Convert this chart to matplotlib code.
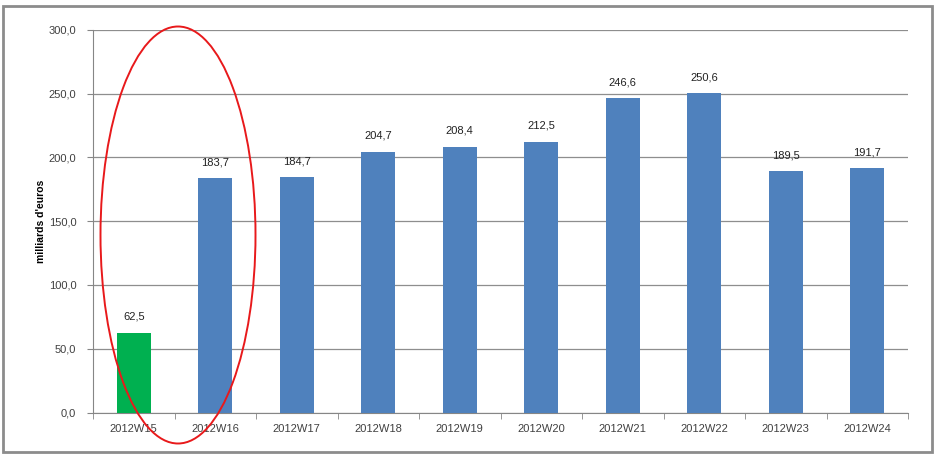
import matplotlib.pyplot as plt
from matplotlib.patches import Ellipse, Rectangle
from matplotlib.ticker import FuncFormatter, FixedLocator

weeks = ["2012W15", "2012W16", "2012W17", "2012W18", "2012W19",
         "2012W20", "2012W21", "2012W22", "2012W23", "2012W24"]
values = [62.5, 183.7, 184.7, 204.7, 208.4, 212.5, 246.6, 250.6, 189.5, 191.7]
colors = ["#00B050"] + ["#4F81BD"] * 9

plt.rcParams['font.family'] = ['Liberation Sans', 'DejaVu Sans']
text_col = "#404040"

fig = plt.figure(figsize=(9.38, 4.61), dpi=100)
ax = fig.add_axes([93 / 938, 1 - 412.5 / 461, 815 / 938, 382.5 / 461])

x = range(len(weeks))
bars = ax.bar(x, values, width=0.42, color=colors, zorder=3)
for xi, v in zip(x, values):
    ax.text(xi, v + 8.5, f"{v:.1f}".replace(".", ","), ha="center", va="bottom",
            fontsize=8, color="#222222")

ax.set_xlim(-0.5, len(weeks) - 0.5)
ax.set_ylim(0, 300)
ax.set_yticks(range(0, 301, 50))
ax.yaxis.set_major_formatter(FuncFormatter(lambda v, p: f"{v:.1f}".replace(".", ",")))
ax.set_xticks(list(x))
ax.set_xticklabels(weeks)
ax.xaxis.set_minor_locator(FixedLocator([i - 0.5 for i in range(len(weeks) + 1)]))
ax.tick_params(axis="x", which="major", length=0, pad=8, labelsize=8, labelcolor=text_col)
ax.tick_params(axis="x", which="minor", length=4, color="#868686", direction="out")
ax.tick_params(axis="y", length=4, color="#868686", labelsize=8, labelcolor=text_col, pad=8)
ax.grid(axis="y", color="#8E8E8E", linewidth=0.9, zorder=0)
for s in ["top", "right"]:
    ax.spines[s].set_visible(False)
ax.spines["left"].set_color("#868686")
ax.spines["bottom"].set_color("#868686")
ax.set_ylabel("milliards d'euros", fontsize=7.5, fontweight="bold", color="black")
ax.yaxis.set_label_coords(-47 / 815, 0.5)

fig.patches.append(Rectangle((3 / 938, 1 - 452 / 461), 929 / 938, 446 / 461,
                             transform=fig.transFigure, fill=False,
                             edgecolor="#8C8C8C", linewidth=2))
fig.patches.append(Ellipse((178 / 938, 1 - 235 / 461), 155 / 938, 417 / 461,
                           transform=fig.transFigure, fill=False,
                           edgecolor="#E8191B", linewidth=1.4, zorder=10))

fig.savefig("out.png", dpi=100)
